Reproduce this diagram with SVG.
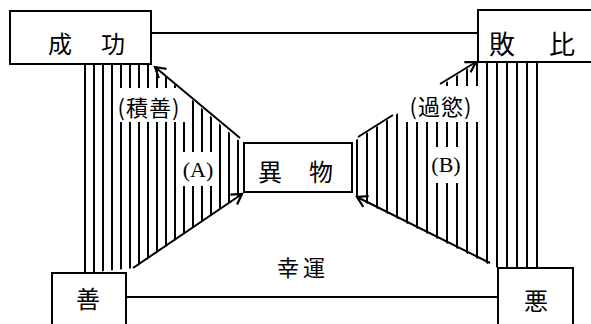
<svg xmlns="http://www.w3.org/2000/svg" width="591" height="324" viewBox="0 0 591 324">
<style>
.box{fill:#fff;stroke:#000;stroke-width:2}
.ln{stroke:#000;stroke-width:2;fill:none}
.bx{font-family:"Noto Sans CJK JP","Noto Sans CJK SC",sans-serif;font-size:24px;fill:#000;text-anchor:middle;dominant-baseline:central}
.lb{font-family:"Noto Sans CJK JP","Noto Sans CJK SC",sans-serif;font-size:22px;fill:#000;text-anchor:middle;dominant-baseline:central}
.lt{font-family:"Liberation Serif",serif;font-size:22px;fill:#000;text-anchor:middle;dominant-baseline:central}
.bg{fill:#fff}
</style>
<defs>
<pattern id="hatchL" patternUnits="userSpaceOnUse" x="84" y="0" width="9" height="20"><line x1="1" y1="0" x2="1" y2="20" stroke="#000" stroke-width="2"/></pattern>
<pattern id="hatchR" patternUnits="userSpaceOnUse" x="536" y="0" width="10" height="20"><line x1="1" y1="0" x2="1" y2="20" stroke="#000" stroke-width="2"/></pattern>
<marker id="arr" markerUnits="userSpaceOnUse" markerWidth="16" markerHeight="16" refX="12" refY="8" orient="auto"><path d="M2,2 L12,8 L2,14" fill="none" stroke="#000" stroke-width="2.2"/></marker>
</defs>
<g id="hatching">
<polygon points="85,64 151,64 238,140 244,141 244,193 135,268 85,273" fill="url(#hatchL)"/>
<polygon points="352,144 356,140 478,62 537,62 537,268 498,268 488,264 358,199 352,193" fill="url(#hatchR)"/>
<line class="ln" x1="85" y1="64" x2="85" y2="273"/>
<line class="ln" x1="537" y1="62" x2="537" y2="268"/>
<rect class="bg" x="114" y="88" width="74" height="34"/>
<rect class="bg" x="181" y="152" width="34" height="34"/>
<rect class="bg" x="400" y="86" width="79" height="36"/>
<rect class="bg" x="429" y="147" width="34" height="36"/>
</g>
<g id="connectors">
<line class="ln" x1="151" y1="33" x2="478" y2="33"/>
<line class="ln" x1="126" y1="297" x2="498" y2="297"/>
<line class="ln" x1="240" y1="138" x2="155" y2="67" marker-end="url(#arr)"/>
<line class="ln" x1="133" y1="268" x2="242" y2="194" marker-end="url(#arr)"/>
<line class="ln" x1="358" y1="137" x2="393" y2="115"/>
<line class="ln" x1="440" y1="84" x2="476" y2="62" marker-end="url(#arr)"/>
<line class="ln" x1="490" y1="263" x2="357" y2="197" marker-end="url(#arr)"/>
</g>
<g id="labels">
<text class="lb" x="149" y="106" letter-spacing="1">(積善)</text>
<text class="lt" x="198" y="169">(A)</text>
<text class="lb" x="441" y="105" letter-spacing="1">(過慾)</text>
<text class="lt" x="446" y="164">(B)</text>
<text class="lb" x="303" y="266" letter-spacing="4">幸運</text>
</g>
<g id="node-seiko">
<rect class="box" x="10" y="11" width="141" height="53"/>
<text class="bx"><tspan x="60" y="42">成</tspan><tspan x="113" y="42">功</tspan></text>
</g>
<g id="node-haiboku">
<rect class="box" x="478" y="10" width="118" height="52"/>
<text class="bx" style="font-size:26px"><tspan x="502" y="42">敗</tspan><tspan x="562" y="42">比</tspan></text>
</g>
<g id="node-ibutsu">
<rect class="box" x="244" y="143" width="108" height="49"/>
<text class="bx"><tspan x="270" y="170">異</tspan><tspan x="321" y="170">物</tspan></text>
</g>
<g id="node-zen">
<rect class="box" x="52" y="273" width="74" height="60"/>
<text class="bx" x="88" y="297">善</text>
</g>
<g id="node-aku">
<rect class="box" x="498" y="268" width="75" height="60"/>
<text class="bx" x="536" y="299">悪</text>
</g>
</svg>
